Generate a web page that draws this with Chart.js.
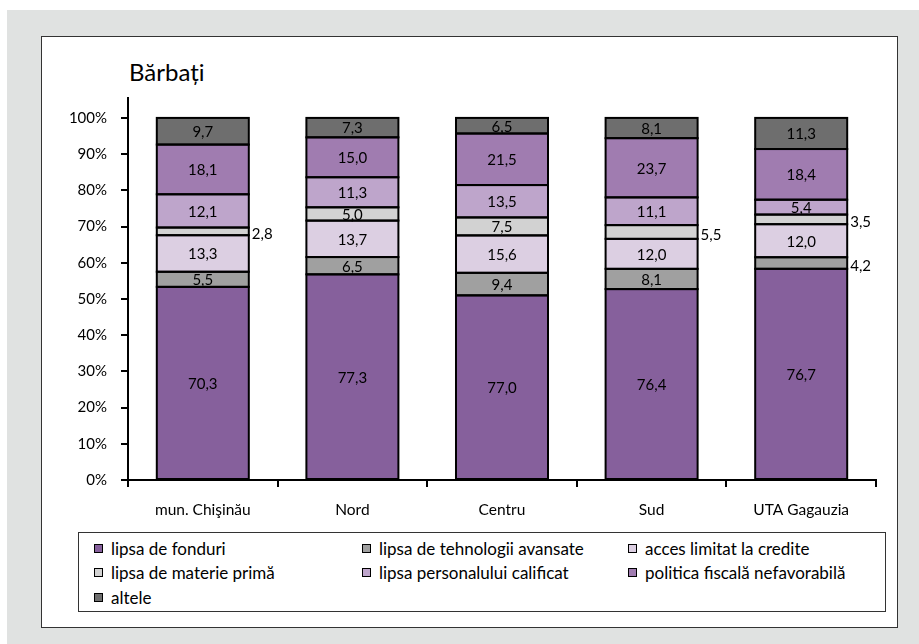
<!DOCTYPE html>
<html>
<head>
<meta charset="utf-8">
<script src="https://cdn.jsdelivr.net/npm/chart.js@4/dist/chart.umd.min.js"></script>
<style>
  html, body { margin: 0; padding: 0; background: #fff; }
  body { width: 919px; height: 644px; position: relative; overflow: hidden; font-family: Lato, "Noto Sans", sans-serif; }
  #bg { position: absolute; left: 7px; top: 10px; right: 0; bottom: 0; background: #e0e2e1; }
  #panel { position: absolute; left: 41px; top: 36px; width: 855px; height: 590px; background: #fff; border: 1px solid #333; }
  #title { position: absolute; left: 129px; top: 60px; font-size: 24px; color: #000; line-height: 1; }
  #wrap { position: absolute; left: 0; top: 0; width: 919px; height: 644px; }
  #legend { position: absolute; left: 78px; top: 532px; width: 806px; height: 78px; border: 1px solid #333; background: #fff; font-size: 17px; color: #000; }
  .item { position: absolute; display: flex; align-items: center; white-space: nowrap; }
  .sw { width: 7px; height: 7px; border: 1.5px solid #000; margin-right: 8px; }
</style>
</head>
<body>
<div id="bg"></div>
<div id="panel"></div>
<div id="title">Bărbați</div>
<div id="wrap"><canvas id="chart"></canvas></div>
<div id="legend"></div>
<script>
  // regions
  const regions = ["mun. Chişinău", "Nord", "Centru", "Sud", "UTA Gagauzia"];

  // series (percent of respondents, as printed on the bars)
  const lipsaFonduri = [70.3, 77.3, 77.0, 76.4, 76.7];
  const lipsaTehnologii = [5.5, 6.5, 9.4, 8.1, 4.2];
  const accesCredite = [13.3, 13.7, 15.6, 12.0, 12.0];
  const lipsaMaterie = [2.8, 5.0, 7.5, 5.5, 3.5];
  const lipsaPersonal = [12.1, 11.3, 13.5, 11.1, 5.4];
  const politicaFiscala = [18.1, 15.0, 21.5, 23.7, 18.4];
  const altele = [9.7, 7.3, 6.5, 8.1, 11.3];

  const seriesNames = [
    "lipsa de fonduri",
    "lipsa de tehnologii avansate",
    "acces limitat la credite",
    "lipsa de materie primă",
    "lipsa personalului calificat",
    "politica fiscală nefavorabilă",
    "altele"
  ];
  const yTicks = [0, 10, 20, 30, 40, 50, 60, 70, 80, 90, 100];

  const series = [lipsaFonduri, lipsaTehnologii, accesCredite, lipsaMaterie, lipsaPersonal, politicaFiscala, altele];
  const colors = ["#86609c", "#a0a0a0", "#dccfe2", "#d2d2d2", "#bea5cb", "#a07cb0", "#6e6e6e"];

  // labels drawn beside the bar instead of inside: [series, region]
  const sideLabels = [[3, 0], [3, 3], [3, 4], [1, 4]];

  const totals = regions.map((_, i) => series.reduce((s, arr) => s + arr[i], 0));

  const datasets = series.map((arr, k) => ({
    label: seriesNames[k],
    data: arr.map((v, i) => v / totals[i] * 100),
    raw: arr,
    backgroundColor: colors[k],
    borderWidth: 0,
    barPercentage: 0.615,
    categoryPercentage: 1
  }));

  // outline every segment with a 2px line centred on its edges, then write the values
  const segmentsAndLabels = {
    id: "segmentsAndLabels",
    afterDatasetsDraw(chart) {
      const ctx = chart.ctx;
      ctx.save();
      ctx.strokeStyle = "#000";
      ctx.lineWidth = 2;
      chart.data.datasets.forEach((ds, k) => {
        chart.getDatasetMeta(k).data.forEach(bar => {
          ctx.strokeRect(bar.x - bar.width / 2, bar.y, bar.width, bar.base - bar.y);
        });
      });
      ctx.font = "15px Lato, 'Noto Sans', sans-serif";
      ctx.fillStyle = "#000";
      ctx.textBaseline = "middle";
      chart.data.datasets.forEach((ds, k) => {
        chart.getDatasetMeta(k).data.forEach((bar, i) => {
          const txt = ds.raw[i].toFixed(1).replace(".", ",");
          const cy = (bar.y + bar.base) / 2;
          const side = sideLabels.some(p => p[0] === k && p[1] === i);
          if (side) {
            ctx.textAlign = "left";
            ctx.fillText(txt, bar.x + bar.width / 2 + 3, cy + 3);
          } else {
            ctx.textAlign = "center";
            ctx.fillText(txt, bar.x, cy + 1);
          }
        });
      });
      ctx.restore();
    }
  };

  const chart = new Chart(document.getElementById("chart"), {
    type: "bar",
    data: { labels: regions, datasets: datasets },
    options: {
      responsive: true,
      maintainAspectRatio: false,
      animation: false,
      layout: { padding: { left: 68, top: 98, right: 43, bottom: 124 } },
      plugins: { legend: { display: false }, tooltip: { enabled: false }, title: { display: false } },
      scales: {
        x: {
          stacked: true,
          grid: { display: true, drawOnChartArea: false, offset: true, color: "#000", lineWidth: 2, tickLength: 7 },
          border: { display: true, color: "#000", width: 2 },
          ticks: { color: "#000", font: { family: "Lato, 'Noto Sans', sans-serif", size: 15.5 }, padding: 14, maxRotation: 0 },
          afterFit(scale) { scale.height = 40; }
        },
        y: {
          stacked: true,
          min: 0,
          max: 105.5,
          afterBuildTicks(scale) { scale.ticks = yTicks.map(v => ({ value: v })); },
          grid: { display: true, drawOnChartArea: false, color: "#000", lineWidth: 2, tickLength: 7 },
          border: { display: true, color: "#000", width: 2 },
          ticks: { color: "#000", font: { family: "Lato, 'Noto Sans', sans-serif", size: 15 }, padding: 14, callback: v => v + "%" },
          afterFit(scale) { scale.width = 60; }
        }
      }
    },
    plugins: [segmentsAndLabels]
  });

  // legend box, three columns
  const legend = document.getElementById("legend");
  const colX = [15, 283, 549];
  const rowY = [15, 39, 64];
  chart.data.datasets.forEach((ds, k) => {
    const el = document.createElement("div");
    el.className = "item";
    el.style.left = colX[k % 3] + "px";
    el.style.top = (rowY[Math.floor(k / 3)] - 10) + "px";
    el.style.height = "20px";
    el.innerHTML = '<span class="sw" style="background:' + ds.backgroundColor + '"></span><span>' + ds.label + '</span>';
    legend.appendChild(el);
  });
</script>
</body>
</html>
